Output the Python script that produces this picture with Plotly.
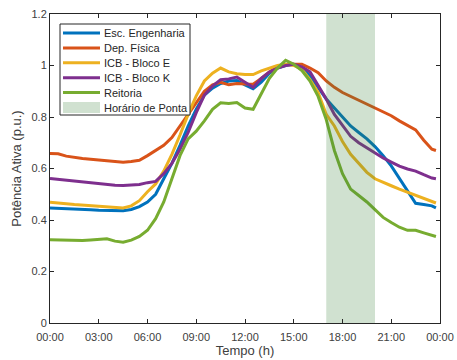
import plotly.graph_objects as go

hours = [i * 0.5 for i in range(48)] + [23.75]

esc_engenharia = [0.447, 0.446, 0.445, 0.444, 0.442, 0.440, 0.438, 0.437, 0.436, 0.436,
                  0.441, 0.452, 0.470, 0.500, 0.560, 0.620, 0.690, 0.765, 0.830, 0.885,
                  0.912, 0.930, 0.940, 0.942, 0.925, 0.910, 0.935, 0.970, 0.990, 1.000,
                  1.005, 0.990, 0.960, 0.915, 0.870, 0.835, 0.800, 0.765, 0.740, 0.715,
                  0.685, 0.650, 0.610, 0.560, 0.515, 0.465, 0.460, 0.455, 0.447]
dep_fisica = [0.658, 0.657, 0.648, 0.643, 0.639, 0.636, 0.633, 0.630, 0.627, 0.624,
              0.627, 0.632, 0.650, 0.670, 0.690, 0.720, 0.765, 0.810, 0.855, 0.900,
              0.925, 0.935, 0.925, 0.930, 0.928, 0.927, 0.950, 0.975, 0.995, 1.003,
              1.005, 1.005, 0.990, 0.972, 0.940, 0.915, 0.895, 0.880, 0.865, 0.850,
              0.838, 0.822, 0.805, 0.785, 0.768, 0.750, 0.710, 0.675, 0.670]
icb_bloco_e = [0.469, 0.467, 0.463, 0.460, 0.458, 0.455, 0.453, 0.451, 0.449, 0.447,
               0.455, 0.475, 0.510, 0.540, 0.590, 0.655, 0.730, 0.810, 0.882, 0.940,
               0.970, 0.990, 0.975, 0.968, 0.965, 0.965, 0.979, 0.990, 1.000, 1.005,
               1.000, 0.985, 0.945, 0.895, 0.810, 0.765, 0.705, 0.655, 0.620, 0.585,
               0.560, 0.545, 0.533, 0.520, 0.508, 0.495, 0.482, 0.470, 0.466]
icb_bloco_k = [0.561, 0.558, 0.553, 0.550, 0.546, 0.543, 0.540, 0.537, 0.535, 0.534,
               0.536, 0.538, 0.545, 0.550, 0.580, 0.620, 0.675, 0.740, 0.817, 0.885,
               0.920, 0.945, 0.948, 0.955, 0.935, 0.915, 0.950, 0.975, 0.990, 1.000,
               1.005, 0.995, 0.975, 0.925, 0.870, 0.810, 0.765, 0.725, 0.700, 0.680,
               0.660, 0.641, 0.625, 0.609, 0.598, 0.590, 0.576, 0.563, 0.560]
reitoria = [0.323, 0.322, 0.321, 0.320, 0.320, 0.322, 0.325, 0.327, 0.318, 0.314,
            0.322, 0.336, 0.360, 0.405, 0.470, 0.560, 0.650, 0.715, 0.745, 0.785,
            0.830, 0.855, 0.852, 0.856, 0.835, 0.830, 0.890, 0.950, 0.990, 1.020,
            1.005, 0.980, 0.940, 0.880, 0.790, 0.670, 0.580, 0.520, 0.495, 0.470,
            0.440, 0.410, 0.390, 0.372, 0.360, 0.360, 0.350, 0.340, 0.336]

series_names = ["Esc. Engenharia", "Dep. Física", "ICB - Bloco E", "ICB - Bloco K", "Reitoria"]
series_values = [esc_engenharia, dep_fisica, icb_bloco_e, icb_bloco_k, reitoria]
series_colors = ["#0072BD", "#D95319", "#EDB120", "#7E2F8E", "#77AC30"]

peak_start, peak_end = 17, 20
peak_label = "Horário de Ponta"
peak_fill = "rgba(60,130,60,0.24)"
y_min, y_max = 0, 1.2

tick_hours = [0, 3, 6, 9, 12, 15, 18, 21, 24]
tick_labels = ["00:00", "03:00", "06:00", "09:00", "12:00", "15:00", "18:00", "21:00", "00:00"]

W, H = 457, 360
ML, MR, MT, MB = 50, 17, 14, 37
PW, PH = W - ML - MR, H - MT - MB


def px(xp):
    return (xp - ML) / PW


def py(yp):
    return (H - MB - yp) / PH


fig = go.Figure()
for name, vals, col in zip(series_names, series_values, series_colors):
    fig.add_trace(go.Scatter(x=hours, y=vals, mode="lines", name=name,
                             line=dict(color=col, width=3), showlegend=False))

fig.add_trace(go.Scatter(
    x=[peak_start, peak_end, peak_end, peak_start, peak_start],
    y=[y_min, y_min, y_max, y_max, y_min],
    mode="lines", fill="toself", fillcolor=peak_fill,
    line=dict(width=0, color=peak_fill), name=peak_label, showlegend=False))

axis_col = "#262626"

# manual legend (compact, MATLAB-like)
shapes = [dict(type="rect", xref="paper", yref="paper",
               x0=px(60), x1=px(190), y0=py(115), y1=py(24),
               line=dict(color=axis_col, width=1), fillcolor="white", layer="above")]
annotations = []
row0, step = 33.0, 14.9
labels = series_names + [peak_label]
for i, lab in enumerate(labels):
    yc = row0 + i * step
    if i < len(series_names):
        shapes.append(dict(type="line", xref="paper", yref="paper",
                           x0=px(63), x1=px(100), y0=py(yc), y1=py(yc),
                           line=dict(color=series_colors[i], width=3), layer="above"))
    else:
        shapes.append(dict(type="rect", xref="paper", yref="paper",
                           x0=px(63), x1=px(100), y0=py(yc + 5.5), y1=py(yc - 5.5),
                           line=dict(width=0), fillcolor=peak_fill, layer="above"))
    annotations.append(dict(xref="paper", yref="paper", x=px(102), y=py(yc),
                            xanchor="left", yanchor="middle", text=lab, showarrow=False,
                            font=dict(size=11, color="#262626")))

fig.update_layout(
    width=W, height=H,
    margin=dict(l=ML, r=MR, t=MT, b=MB),
    paper_bgcolor="white", plot_bgcolor="white",
    font=dict(family="Liberation Sans, Arial, sans-serif", size=11, color="#404040"),
    showlegend=False,
    shapes=shapes, annotations=annotations,
    xaxis=dict(range=[0, 24], tickvals=tick_hours, ticktext=tick_labels,
               ticks="inside", ticklen=4, tickcolor=axis_col, showline=True,
               linecolor=axis_col, linewidth=1, mirror="ticks", showgrid=False,
               zeroline=False, automargin=False, ticklabelstandoff=4,
               title=dict(text="Tempo (h)", font=dict(size=13, color="#404040"), standoff=2)),
    yaxis=dict(range=[y_min, y_max], dtick=0.2, tick0=0,
               ticks="inside", ticklen=4, tickcolor=axis_col, showline=True,
               linecolor=axis_col, linewidth=1, mirror="ticks", showgrid=False,
               zeroline=False, automargin=False,
               title=dict(text="Potência Ativa (p.u.)", font=dict(size=13, color="#404040"), standoff=6)),
)

fig.write_html("out.html")
